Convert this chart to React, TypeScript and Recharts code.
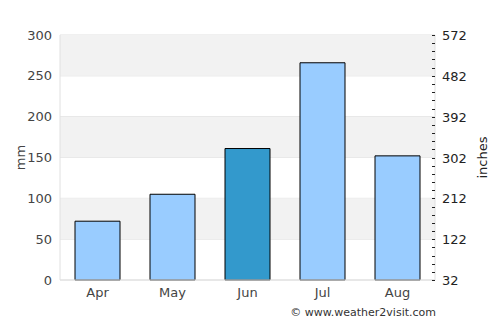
import React from 'react';
import {
  BarChart, Bar, XAxis, YAxis, CartesianGrid, Cell, ReferenceArea,
} from 'recharts';

const months = ['Apr', 'May', 'Jun', 'Jul', 'Aug'];
const rainfall = [72, 105, 161, 266, 152];
const highlight = ['Jun'];
const leftTicks = [0, 50, 100, 150, 200, 250, 300];
const rightMajor = [32, 122, 212, 302, 392, 482, 572];
const bands = [[50, 100], [150, 200], [250, 300]];

const C = {
  light: '#99ccff',
  dark: '#3399cc',
  band: '#f2f2f2',
  grid: '#e0e0e0',
  text: '#444',
};

const FONT = '"DejaVu Sans", sans-serif';

const data = months.map((m, i) => ({ month: m, mm: rainfall[i] }));

// minor ticks every 18 between the major ones
const rightTicks: number[] = [];
for (let v = 32; v <= 572; v += 18) rightTicks.push(v);

function RightTick({ x, y, payload }: any) {
  const major = rightMajor.includes(payload.value);
  const yy = Math.round(y) + 0.5;
  return (
    <g>
      <line x1={x - 3} x2={x} y1={yy} y2={yy} stroke="#222" strokeWidth={1} />
      {major && (
        <text x={x + 7} y={y} dy={5} fontSize={13} fill="#222" fontFamily={FONT}>
          {payload.value}
        </text>
      )}
    </g>
  );
}

export default function App() {
  return (
    <div style={{ position: 'absolute', left: 0, top: 0, width: 500, height: 325, background: '#fff', fontFamily: FONT }}>
      <BarChart
        width={500}
        height={325}
        data={data}
        margin={{ top: 35, right: 0, left: 0, bottom: 0 }}
        barCategoryGap="20%"
      >
        {bands.map(([a, b]) => (
          <ReferenceArea key={a} yAxisId="left" y1={a} y2={b} fill={C.band} fillOpacity={1} stroke="none" />
        ))}
        <CartesianGrid vertical={false} stroke={C.grid} yAxisId="left" />
        <XAxis
          dataKey="month"
          height={45}
          tickLine={false}
          axisLine={{ stroke: C.grid }}
          tick={{ fill: C.text, fontSize: 13, fontFamily: FONT }}
        />
        <YAxis
          yAxisId="left"
          domain={[0, 300]}
          ticks={leftTicks}
          width={60}
          tickLine={false}
          tickMargin={2}
          axisLine={{ stroke: C.grid }}
          tick={{ fill: C.text, fontSize: 13, fontFamily: FONT }}
          label={{ value: 'mm', angle: -90, position: 'insideLeft', offset: 20, style: { textAnchor: 'middle', fill: C.text, fontSize: 13, fontFamily: FONT } }}
        />
        <YAxis
          yAxisId="right"
          orientation="right"
          type="number"
          domain={[32, 572]}
          allowDataOverflow
          ticks={rightTicks}
          interval={0}
          width={65}
          tickLine={false}
          tickSize={0}
          tickMargin={0}
          axisLine={{ stroke: C.grid }}
          tick={<RightTick />}
          label={{ value: 'inches', angle: -90, position: 'insideRight', offset: 18, style: { textAnchor: 'middle', fill: '#222', fontSize: 13, fontFamily: FONT } }}
        />
        <Bar yAxisId="left" dataKey="mm" stroke="#000" strokeWidth={1} isAnimationActive={false}>
          {data.map(d => (
            <Cell key={d.month} fill={highlight.includes(d.month) ? C.dark : C.light} />
          ))}
        </Bar>
      </BarChart>
      <div style={{ position: 'absolute', right: 64, top: 306, fontSize: 11, color: '#333', fontFamily: FONT }}>
        © www.weather2visit.com
      </div>
    </div>
  );
}
